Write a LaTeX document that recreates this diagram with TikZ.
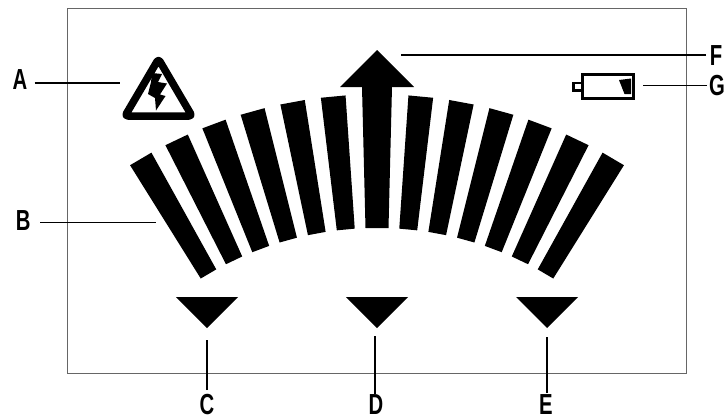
\documentclass[tikz,border=0pt]{standalone}
\usepackage{fontspec}
\setmainfont[FakeStretch=0.7]{Liberation Sans Bold}
\tikzset{
  leader/.style={draw=black,line width=1.3pt},
  lab/.style={font=\fontsize{29}{29}\selectfont,inner sep=0pt,text=black},
  solid black/.style={fill=black,draw=none}
}
\begin{document}
\begin{tikzpicture}[x=1pt,y=-1pt]
\useasboundingbox (0,0) rectangle (726,418);
\draw[draw=black!60,line width=0.9pt] (67,8) rectangle (686.5,373.5);
% bars
\foreach \a in {-30.5,-25.5,-20.5,-15.5,-10.45,-5.4,5.4,10.45,15.5,20.5,25.5,30.5}{
  \fill[black,shift={(377,560)},rotate=\a]
    (-12.4,-465.5) -- (12.4,-465.5) -- (9,-332) -- (-9,-332) -- cycle;
}
% centre arrow
\fill[black] (377,50) -- (414,87) -- (392,87) -- (388.5,228) -- (365.5,228) -- (362,87) -- (340,87) -- cycle;
% triangles
\fill[black] (176,297) -- (238,297) -- (207,328) -- cycle;
\fill[black] (346,297) -- (408,297) -- (377,328) -- cycle;
\fill[black] (516,297) -- (578,297) -- (547,328) -- cycle;
% warning sign
\draw[line width=7.5pt,line join=round,rounded corners=3pt] (158.5,59) -- (192,116) -- (125,116) -- cycle;
\fill[black] (152,73) -- (162,74) -- (158,82) -- (167,83.5) -- (160,94.5) -- (165.5,96) -- (156,110.5) -- (155,98) -- (148,94) -- (151,82) -- cycle;
% battery
\draw[line width=3pt] (582.5,74.5) rectangle (633,98.5);
\draw[line width=2.5pt] (581,83) -- (573.5,83) -- (573.5,90.5) -- (581,90.5);
\fill[black] (619,80) -- (631,78.5) -- (631,94) -- (624.5,94) -- cycle;
% labels
\node[lab] (A) at (20,80) {A};
\node[lab] (B) at (23.3,221) {B};
\node[lab] (C) at (207,405) {C};
\node[lab] (D) at (376,405) {D};
\node[lab] (E) at (546,405) {E};
\node[lab] (F) at (716,55.5) {F};
\node[lab] (G) at (717,85.5) {G};
% leaders
\coordinate (a1) at (120,83); \coordinate (a0) at (34.5,83);
\coordinate (b1) at (156,222.5); \coordinate (b0) at (40,222.5);
\coordinate (c1) at (207,340); \coordinate (c0) at (207,390);
\coordinate (d1) at (375,336); \coordinate (d0) at (375,394);
\coordinate (e1) at (547,337); \coordinate (e0) at (547,393);
\coordinate (f1) at (400.5,55); \coordinate (f0) at (706,55);
\coordinate (g1) at (642.5,85.5); \coordinate (g0) at (707,85.5);
\draw[leader] (a0) -- (a1);
\draw[leader] (b0) -- (b1);
\draw[leader] (c0) -- (c1);
\draw[leader] (d0) -- (d1);
\draw[leader] (e0) -- (e1);
\draw[leader] (f0) -- (f1);
\draw[leader] (g0) -- (g1);
\end{tikzpicture}
\end{document}
